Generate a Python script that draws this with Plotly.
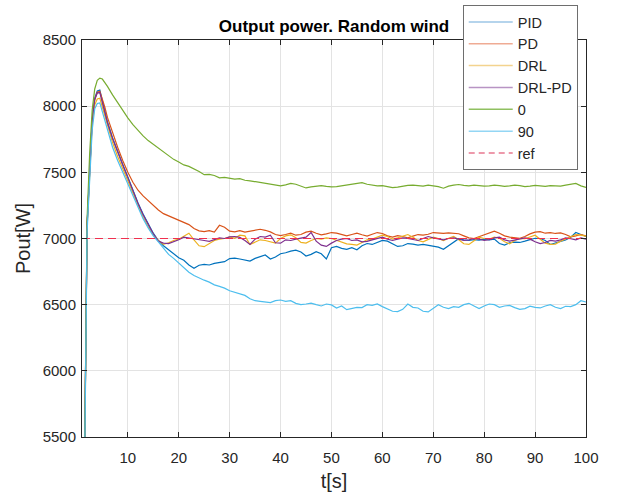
import plotly.graph_objects as go

# time axis [s]
T_EARLY = [1, 1.5, 2, 2.5, 3, 3.5, 4, 4.5, 5, 5.5, 6]
T_LATE = list(range(7, 101))
T = T_EARLY + T_LATE

PID = [2000, 5300, 7110, 7560, 7900, 8060, 8115, 8122, 8040, 7970, 7880,
       7760, 7655, 7560, 7465, 7365, 7268, 7185, 7110, 7040, 6985,
       6945, 6915, 6885, 6855, 6835, 6800, 6775, 6798, 6805, 6800,
       6812, 6818, 6825, 6848, 6852, 6845, 6838, 6830, 6850, 6865,
       6875, 6845, 6860, 6885, 6892, 6905, 6912, 6898, 6868, 6880,
       6900, 6885, 6845, 6930, 6940, 6925, 6918, 6930, 6915, 6945,
       6962, 6955, 6970, 6985, 6980, 6960, 6940, 6945, 6962, 6958,
       6950, 6955, 6948, 6940, 6935, 6918, 6945, 6965, 6998, 6990,
       6985, 6992, 6988, 6995, 6990, 6995, 6962, 6950, 6968, 6972,
       6970, 6980, 6992, 7002, 7000, 6985, 6955, 6965, 6980, 6990,
       7010, 7045, 7030, 7015]

PD = [2000, 5300, 7100, 7560, 7890, 8050, 8105, 8112, 8055, 7990, 7915,
      7800, 7690, 7590, 7500, 7425, 7365, 7322, 7286, 7250, 7215,
      7188, 7172, 7150, 7135, 7120, 7105, 7075, 7058, 7052, 7060,
      7048, 7100, 7085, 7055, 7050, 7060, 7048, 7055, 7062, 7070,
      7062, 7050, 7030, 7022, 7030, 7040, 7025, 7030, 7048, 7055,
      7040, 7028, 7035, 7045, 7040, 7030, 7020, 7030, 7040, 7028,
      7018, 7032, 7045, 7038, 7020, 7010, 7022, 7015, 7005, 7018,
      7030, 7025, 7032, 7045, 7040, 7038, 7042, 7040, 7036, 7020,
      7005, 7000, 7015, 7030, 7042, 7055, 7040, 7020, 7010, 7005,
      7002, 7015, 7035, 7048, 7052, 7040, 7045, 7038, 7042, 7030,
      7012, 7020, 7030, 7020]

DRL = [1900, 5250, 7080, 7530, 7860, 8010, 8055, 8060, 7995, 7925, 7845,
       7725, 7620, 7525, 7435, 7340, 7245, 7160, 7090, 7030, 6985,
       6955, 6968, 6985, 6995, 7020, 7040, 6990, 6945, 6938, 6962,
       6985, 6995, 7000, 7012, 7002, 7025, 7020, 6955, 6970, 6990,
       6985, 6975, 6965, 7000, 7020, 7028, 7005, 6970, 6965, 6985,
       7000, 6995, 7005, 7000, 6985, 6975, 6960, 6955, 6950, 6970,
       6990, 6995, 7010, 7025, 7015, 6995, 7005, 7020, 7030, 7010,
       6985, 6975, 6995, 7010, 7000, 6985, 7002, 7015, 6990, 6960,
       6955, 6985, 7010, 7000, 6995, 7010, 7002, 6975, 6960, 6985,
       7000, 6998, 7012, 7025, 6995, 6965, 6955, 6958, 6980, 6998,
       7015, 7030, 7025, 7018]

DRL_PD = [2000, 5300, 7100, 7555, 7890, 8050, 8100, 8102, 8030, 7960, 7875,
          7755, 7650, 7555, 7460, 7360, 7265, 7180, 7105, 7035, 6980,
          6965, 6962, 6975, 6990, 7010, 7005, 6995, 6990, 6985, 6978,
          6990, 7005, 7000, 7012, 7015, 7008, 6985, 6955, 6995, 7015,
          7010, 7025, 6968, 6965, 6990, 6985, 6995, 7000, 7010, 7045,
          6980, 6950, 6940, 6965, 6985, 6995, 7000, 6985, 6990, 6975,
          6978, 6990, 7000, 7010, 6995, 6985, 6995, 7005, 7000, 6990,
          6985, 7000, 7015, 7005, 6995, 6990, 7000, 7005, 6995, 6985,
          6990, 7000, 6995, 6985, 6992, 7005, 7010, 6990, 6980, 6988,
          7000, 7005, 6995, 6975, 6962, 6970, 6985, 6980, 6990, 7005,
          6998, 6990, 7005, 6995]

P0 = [2000, 5300, 7150, 7640, 7970, 8130, 8195, 8212, 8205, 8180, 8150,
      8085, 8025, 7968, 7912, 7860, 7815, 7775, 7740, 7712, 7686,
      7660, 7625, 7598, 7578, 7556, 7545, 7528, 7506, 7482, 7484,
      7476, 7458, 7462, 7456, 7448, 7452, 7440, 7436, 7430, 7424,
      7418, 7410, 7402, 7398, 7405, 7416, 7410, 7396, 7382, 7390,
      7396, 7400, 7394, 7390, 7392, 7398, 7404, 7410, 7416, 7422,
      7410, 7404, 7398, 7400, 7392, 7384, 7388, 7396, 7402, 7404,
      7400, 7396, 7404, 7400, 7392, 7380, 7396, 7404, 7408, 7402,
      7398, 7404, 7400, 7396, 7398, 7404, 7400, 7394, 7398, 7404,
      7400, 7392, 7396, 7402, 7398, 7394, 7400, 7398, 7396, 7404,
      7412, 7416, 7398, 7386]

P90 = [1800, 5200, 7050, 7500, 7820, 7980, 8020, 8025, 7960, 7885, 7810,
       7690, 7590, 7500, 7410, 7320, 7230, 7150, 7080, 7020, 6975,
       6930, 6880, 6850, 6815, 6775, 6745, 6720, 6700, 6685, 6670,
       6650, 6638, 6625, 6605, 6595, 6585, 6570, 6545, 6530, 6525,
       6520, 6515, 6530, 6535, 6525, 6530, 6510, 6500, 6505, 6512,
       6500, 6490, 6505, 6498, 6475, 6490, 6462, 6470, 6480, 6478,
       6500, 6495, 6505, 6485, 6470, 6450, 6448, 6465, 6505, 6480,
       6475, 6450, 6445, 6470, 6500, 6480, 6470, 6485, 6480, 6500,
       6510, 6490, 6470, 6490, 6505, 6500, 6480, 6490, 6495, 6478,
       6465, 6470, 6488, 6480, 6475, 6490, 6500, 6480, 6470, 6488,
       6485, 6500, 6530, 6520]

REF_T = [1, 100]
REF_P = [7000, 7000]

NAMES = ["PID", "PD", "DRL", "DRL-PD", "0", "90"]
SERIES = [PID, PD, DRL, DRL_PD, P0, P90]
COLORS = ["#0072BD", "#D95319", "#EDB120", "#7E2F8E", "#77AC30", "#4DBEEE"]
LEGEND_COLORS = ["#9cc6e6", "#efab94", "#f3d38e", "#b894c4", "#8fc060", "#93d6f4"]
REF_COLOR = "#f0304f"
REF_LEGEND_COLOR = "#e87890"

XTICKS = [10, 20, 30, 40, 50, 60, 70, 80, 90, 100]
YTICKS = [5500, 6000, 6500, 7000, 7500, 8000, 8500]

for s in SERIES:
    assert len(s) == len(T), (len(s), len(T))

fig = go.Figure()
for name, s, c in zip(NAMES, SERIES, COLORS):
    fig.add_trace(go.Scatter(x=T, y=s, mode="lines", name=name,
                             line=dict(color=c, width=1.2), showlegend=False))
fig.add_trace(go.Scatter(x=REF_T, y=REF_P, mode="lines", name="ref",
                         line=dict(color=REF_COLOR, width=1.2, dash="8px,5px"),
                         showlegend=False))
# legend entries (faded colours as in the original)
for name, c in zip(NAMES, LEGEND_COLORS):
    fig.add_trace(go.Scatter(x=[None], y=[None], mode="lines", name=name,
                             line=dict(color=c, width=1.5)))
fig.add_trace(go.Scatter(x=[None], y=[None], mode="lines", name="ref",
                         line=dict(color=REF_LEGEND_COLOR, width=1.5, dash="6px,4px")))

axis_common = dict(
    showline=True, linecolor="#262626", linewidth=1, mirror="allticks",
    ticks="inside", ticklen=5, tickcolor="#262626",
    showgrid=True, gridcolor="#e3e3e3", gridwidth=1, zeroline=False,
    tickfont=dict(family="Liberation Sans, Arial", size=15, color="#262626"),
)

fig.update_layout(
    width=619, height=494,
    margin=dict(l=82, r=33, t=40, b=57, autoexpand=False),
    paper_bgcolor="white", plot_bgcolor="white",
    font=dict(family="Liberation Sans, Arial", color="#262626"),
    title=dict(text="<b>Output power. Random wind</b>", x=0.5, xref="paper",
               y=1 - 26 / 494, yref="container", yanchor="middle", xanchor="center",
               font=dict(size=17, color="black")),
    xaxis=dict(range=[1, 100], tickvals=XTICKS, ticklabelstandoff=7,
               title=dict(text="t[s]", font=dict(size=20, color="#262626"), standoff=8),
               **axis_common),
    yaxis=dict(range=[5500, 8500], tickvals=YTICKS, ticklabelstandoff=2,
               title=dict(text="Pout[W]", font=dict(size=20, color="#262626"), standoff=6),
               **axis_common),
    legend=dict(x=0.7554, y=1.0882, xanchor="left", yanchor="top", itemwidth=44,
                bgcolor="white", bordercolor="#6e6e6e", borderwidth=1,
                font=dict(size=14.5, color="#262626"), tracegroupgap=0),
)

fig.write_html("out.html", config={"displayModeBar": False},
               post_script="document.body.style.margin='0';document.body.style.overflow='hidden';")
